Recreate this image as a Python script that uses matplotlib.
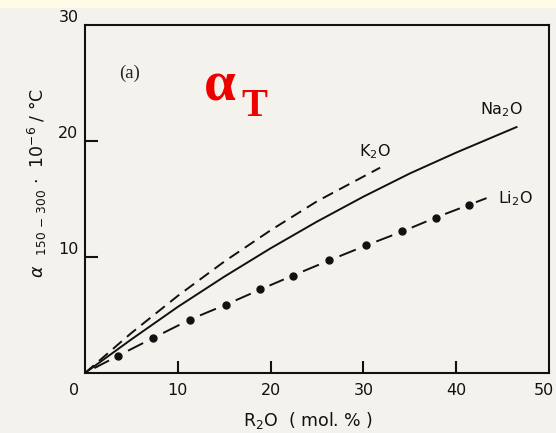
import matplotlib
matplotlib.use('Agg')
from matplotlib import pyplot as plt
from matplotlib.patches import Rectangle

# values
na_x = [0, 5, 10, 15, 20, 25, 30, 35, 40, 46.5]
na_y = [0, 2.9, 5.7, 8.3, 10.75, 13.05, 15.2, 17.2, 19.0, 21.2]
k_x = [0, 5, 10, 15, 20, 25, 31.8]
k_y = [0, 3.45, 6.65, 9.6, 12.3, 14.8, 17.7]
li_x = [3.6, 7.3, 11.3, 15.2, 18.9, 22.4, 26.3, 30.3, 34.2, 37.8, 41.4]
li_y = [1.5, 3.0, 4.6, 5.9, 7.2, 8.4, 9.7, 11.0, 12.2, 13.4, 14.5]
li_end = (44.0, 15.3)
xticks = [10, 20, 30, 40, 50]
yticks = [10, 20, 30]

bg = '#f4f2ed'
fig = plt.figure(figsize=(5.56, 4.33), dpi=100, facecolor=bg)
fig.patches.append(Rectangle((0, 0.982), 1, 0.018, transform=fig.transFigure,
                             facecolor='#fdfbe6', edgecolor='none'))
ax = fig.add_axes([0.1529, 0.1386, 0.8345, 0.8037])
ax.set_facecolor(bg)
ax.set_xlim(0, 50)
ax.set_ylim(0, 30)
for s in ax.spines.values():
    s.set_linewidth(1.5)
    s.set_color('#111111')

ax.plot(na_x, na_y, color='#111111', lw=1.4)
ax.plot(k_x, k_y, color='#111111', lw=1.4, dashes=(6, 3.5))

# Li2O: one dash between each pair of dots
lx = [0] + li_x + [li_end[0]]
ly = [0] + li_y + [li_end[1]]
for i in range(len(lx) - 1):
    x0, x1 = lx[i], lx[i + 1]
    y0, y1 = ly[i], ly[i + 1]
    ax.plot([x0 + 0.28 * (x1 - x0), x0 + 0.72 * (x1 - x0)],
            [y0 + 0.28 * (y1 - y0), y0 + 0.72 * (y1 - y0)],
            color='#111111', lw=1.4, solid_capstyle='butt')
ax.plot(li_x, li_y, 'o', color='#111111', ms=5)

ax.set_xticks(xticks[:-1])
ax.set_yticks(yticks[:-1])
ax.tick_params(direction='in', length=9, width=1.5, colors='#111111',
               labelbottom=False, labelleft=False)

tf = dict(fontsize=11.5, color='#111111', family='DejaVu Sans')
for v in xticks:
    ax.text(v - (0.6 if v == 50 else 0), -0.9, str(v), ha='center', va='top', **tf)
for v in yticks:
    ax.text(-0.7, v, str(v), ha='right', va='bottom', **tf)
ax.text(-0.6, -0.9, '0', ha='right', va='top', **tf)

ax.text(42.6, 21.9, 'Na$_2$O', ha='left', va='bottom', **tf)
ax.text(29.5, 18.3, 'K$_2$O', ha='left', va='bottom', **tf)
ax.text(44.5, 15.0, 'Li$_2$O', ha='left', va='center', **tf)

ax.text(3.7, 25.8, '(a)', fontsize=13.5, family='Liberation Serif', color='#222222',
        ha='left', va='center')
fig.text(0.366, 0.768, 'α', fontsize=41, fontweight='bold', family='Liberation Serif',
         color='#ee0000', ha='left', va='baseline')
fig.text(0.435, 0.733, 'T', fontsize=28, fontweight='bold', family='Liberation Serif',
         color='#ee0000', ha='left', va='baseline')

fig.text(0.068, 0.577, r'$\alpha$  $_{150\,-\,300}$ $\cdot$  10$^{-6}$ / °C',
         rotation=90, ha='center', va='center', fontsize=12.5, color='#111111')
fig.text(0.555, 0.03, 'R$_2$O  ( mol. % )', ha='center', va='center',
         fontsize=12.5, color='#111111')

fig.savefig('out.png', dpi=100, facecolor=bg)
